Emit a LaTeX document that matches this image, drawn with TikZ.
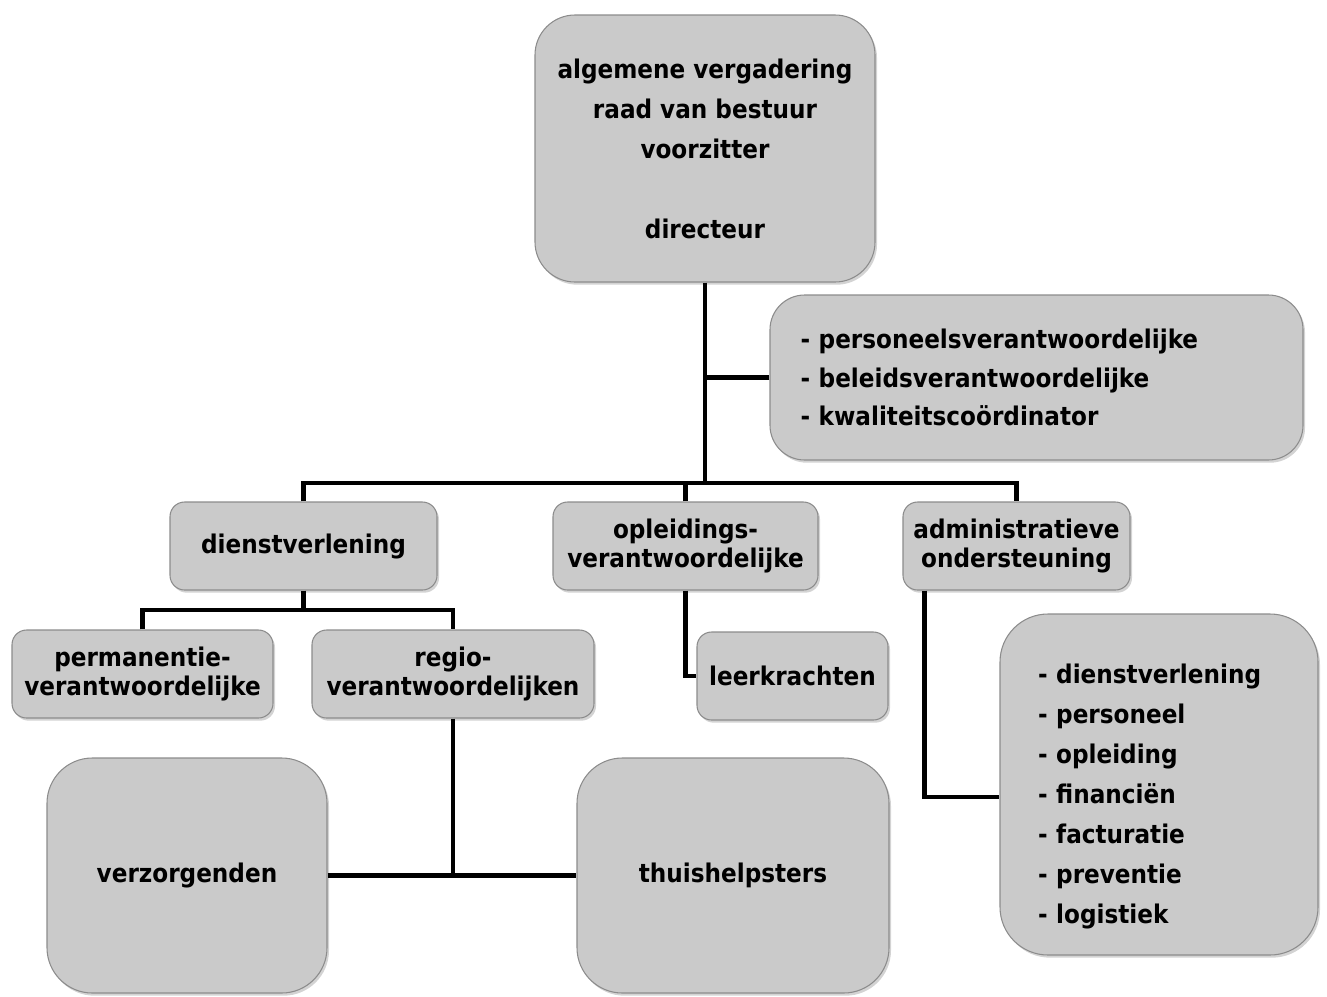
\documentclass[tikz,border=0pt]{standalone}
\usepackage{fontspec}
\newfontfamily\orgfont{DejaVu Sans Condensed}
\usepackage{tikz}
\usetikzlibrary{
  positioning,
  shadows,
  calc
}
\usepackage{xcolor}
\definecolor{boxGray}{RGB}{202,202,202}
\definecolor{boxEdge}{RGB}{140,140,140}
\tikzset{
  orgbox/.style={
    rectangle,
    rounded corners=11pt,
    fill=boxGray,
    draw=boxEdge,
    line width=0.8pt,
    drop shadow={shadow xshift=1.5pt, shadow yshift=-2pt, opacity=0.35},
    font=\orgfont\bfseries\fontsize{19.3}{22}\selectfont,
    align=center,
    inner sep=2pt
  }
}
\tikzset{
  bigbox/.style={
    orgbox,
    rounded corners=30pt
  }
}
\tikzset{
  widelines/.style={
    font=\orgfont\bfseries\fontsize{19.3}{30}\selectfont
  }
}
\tikzset{
  boxsize/.style 2 args={
    minimum width=#1*0.75pt,
    minimum height=#2*0.75pt
  }
}
\tikzset{
  link/.style={
    line width=3.2pt,
    draw=black
  }
}

\begin{document}
\begin{tikzpicture}[x=0.75pt, y=-0.75pt]
    \useasboundingbox (0,0) rectangle (1327,996);
    % boxes
    \node[bigbox, widelines, boxsize={340}{267}] (top) at (705,148.5)
      {algemene vergadering\\raad van bestuur\\voorzitter\\[30pt]directeur};
    \node[bigbox, rounded corners=26pt, boxsize={533}{165},
      font=\orgfont\bfseries\fontsize{19.3}{29}\selectfont,
      text width=354pt, align=left, inner xsep=22.5pt] (staff) at (1036.5,377.5)
      {- personeelsverantwoordelijke\\- beleidsverantwoordelijke\\- kwaliteitscoördinator};
    \node[orgbox, boxsize={267}{88}] (dienst) at (303.5,546) {dienstverlening};
    \node[orgbox, boxsize={265}{88}] (opl) at (685.5,546) {opleidings-\\verantwoordelijke};
    \node[orgbox, boxsize={227}{88}] (admin) at (1016.5,546) {administratieve\\ondersteuning};
    \node[orgbox, boxsize={261}{88}] (perm) at (142.5,674) {permanentie-\\verantwoordelijke};
    \node[orgbox, boxsize={282}{88}] (regio) at (453,674) {regio-\\verantwoordelijken};
    \node[orgbox, boxsize={191}{88}] (leer) at (792.5,676) {leerkrachten};
    \node[bigbox, rounded corners=34pt, boxsize={280}{235}] (verz) at (187,875.5) {verzorgenden};
    \node[bigbox, rounded corners=34pt, boxsize={312}{235}] (thuis) at (733,875.5) {thuishelpsters};
    \node[bigbox, widelines, rounded corners=36pt, boxsize={318}{341},
      text width=181.5pt, align=left, inner xsep=28.5pt] (list) at (1159,784.5)
      {\rule{0pt}{32pt}- dienstverlening\\- personeel\\- opleiding\\- financiën\\- facturatie\\- preventie\\- logistiek};

    % connectors
    \coordinate (hub) at (705,483);
    \coordinate (dsplit) at (303.5,610);
    \draw[link] (top.south) -- (hub);
    \draw[link] (staff.west) -- (staff.west -| top.south);
    \draw[link] (dienst.north) |- (hub) -| (admin.north);
    \draw[link] (opl.north) -- (opl.north |- hub);
    \draw[link] (dienst.south) -- (dsplit);
    \draw[link] (perm.north) |- (dsplit) -| (regio.north);
    \draw[link] (opl.south) |- (leer.west);
    \draw[link] ([xshift=16.5pt]admin.south west) |- ([yshift=-9.4pt]list.west);
    \draw[link] (regio.south) -- (regio.south |- verz.east);
    \draw[link] (verz.east) -- (thuis.west);
\end{tikzpicture}
\end{document}
